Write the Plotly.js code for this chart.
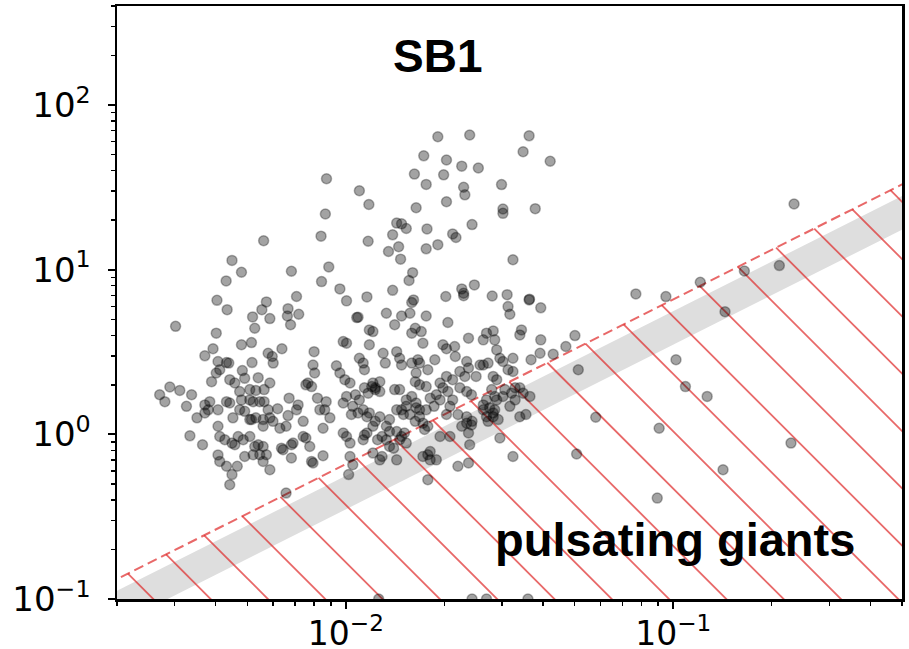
<!DOCTYPE html>
<html><head><meta charset="utf-8">
<script src="https://cdn.plot.ly/plotly-3.0.1.min.js"></script>
<style>html,body{margin:0;padding:0;background:#fff;} #chart{width:909px;height:649px;}</style>
</head><body><div id="chart"></div>
<script>
// ---------------- data ----------------
const upperCloud = [
 [0.0191,64.2],[0.0239,65.8],[0.0363,65.1],[0.0348,52.1],[0.0421,45.6],[0.0173,49.2],[0.0203,46.4],[0.0226,42.6],
 [0.0254,41.5],[0.0162,38.1],[0.0199,37.7],[0.0176,33.0],[0.0299,32.9],[0.0229,31.7],[0.0231,28.5],[0.0110,30.2],
 [0.01176,24.9],[0.0164,23.8],[0.0203,25.9],[0.0302,23.4],[0.0302,22.0],[0.0379,23.5],[0.0143,19.2],[0.0148,19.0],
 [0.0153,17.8],[0.0177,17.7],[0.0243,18.8],[0.0117,14.9],[0.0139,16.3],[0.0212,16.5],[0.0217,15.7],[0.0135,12.9],
 [0.0145,13.8],[0.0147,11.6],[0.0176,13.4],[0.0191,14.2],[0.0324,11.5],[0.0160,9.6],[0.0156,8.6],[0.0139,7.5],
 [0.0116,6.84],[0.0161,6.56],[0.0159,6.32],[0.0226,7.65],[0.0229,7.2],[0.0229,6.96],[0.0247,8.09],[0.0202,6.88],
 [0.0280,6.93],[0.0311,7.06],[0.0364,6.63],[0.00873,35.7],[0.00866,21.8]
];
const leftUpper = [
 [0.00561,15.0],[0.0084,16.0],[0.00449,11.4],[0.0048,9.65],[0.00682,9.79],[0.00887,10.4],[0.00431,8.55],[0.00843,8.47],
 [0.00959,7.65],[0.01005,6.47],[0.00404,6.52],[0.00434,5.72],[0.00572,6.38],[0.00554,5.72],[0.00707,6.88],[0.00666,5.80],
 [0.00663,5.24],[0.00718,5.37],[0.00519,5.17],[0.00586,5.05],[0.00527,4.41],[0.00678,4.63],[0.0108,5.12],[0.00302,4.53]
];
const leftCloud = [
 [0.00402,4.12],[0.0048,3.50],[0.00515,3.61],[0.00393,3.31],[0.00371,3.0],[0.00579,3.11],[0.00596,2.97],[0.0060,2.71],
 [0.00638,3.31],[0.00407,2.77],[0.00432,2.73],[0.00439,2.71],[0.00517,2.73],[0.00389,2.09],[0.00402,2.36],[0.00412,2.47],
 [0.00442,2.15],[0.00458,2.05],[0.00483,2.44],[0.00491,2.19],[0.0054,2.21],[0.00586,2.05],[0.00474,1.82],[0.00509,1.87],
 [0.00531,1.85],[0.00563,1.87],[0.0029,1.94],[0.00311,1.85],[0.00338,1.74],[0.0027,1.74],[0.0028,1.58],[0.00432,1.58],
 [0.00442,1.55],[0.0048,1.62],[0.00509,1.62],[0.00521,1.58],[0.00546,1.58],[0.00563,1.58],[0.00384,1.58],[0.00407,1.41],
 [0.00371,1.35],[0.00351,1.26],[0.00474,1.41],[0.00491,1.38],[0.00509,1.23],[0.00515,1.23],[0.00531,1.26],[0.00452,1.26],
 [0.00579,1.41],[0.00559,1.23],[0.00619,1.43],[0.00671,1.66],[0.00715,1.51],[0.00707,1.41],[0.00666,1.30],[0.00599,1.20],
 [0.00629,1.09],[0.00657,1.12],[0.00741,1.20],[0.00766,2.05],[0.00786,1.95],[0.00755,2.00],[0.00794,2.64],[0.00803,2.36],
 [0.0080,3.18],[0.00819,1.66],[0.00833,1.41],[0.00871,1.58],[0.00862,1.41],[0.00894,1.26],[0.00852,1.09],[0.00936,2.61],
 [0.00334,0.98],[0.00365,0.865],[0.00407,1.12],[0.00412,0.97],[0.00407,0.75],[0.00412,0.685],[0.00432,0.64],[0.00449,0.57],
 [0.00442,0.494],[0.00466,0.64],[0.00449,0.885],[0.00458,0.865],[0.00469,0.97],[0.00427,0.927],[0.00486,0.927],[0.00509,0.97],
 [0.00527,0.844],[0.0054,0.865],[0.00559,0.844],[0.00491,0.734],[0.00521,0.752],[0.00546,0.752],[0.00572,0.752],[0.00559,0.685],
 [0.00586,0.61],[0.00636,0.825],[0.00643,0.806],[0.00682,0.865],[0.0069,0.885],[0.00682,0.719],[0.00741,0.97],[0.00755,0.95],
 [0.00776,0.844],[0.00786,0.685],[0.00794,0.67],[0.00852,0.741],[0.00586,1.26],[0.00559,1.12],[0.00371,1.51],[0.0038,1.41],
 [0.00326,1.48],[0.00657,0.44]
];
const midCloud = [
 [0.0109,5.15],[0.0133,5.44],[0.0148,5.24],[0.0157,5.44],[0.0176,5.24],[0.0205,4.78],[0.0118,4.31],[0.0121,4.21],
 [0.0141,4.63],[0.0159,4.12],[0.0163,4.41],[0.0170,4.21],[0.00982,3.66],[0.01005,3.58],[0.0118,3.50],[0.0172,3.58],
 [0.0198,3.50],[0.0203,3.31],[0.0215,3.42],[0.0216,2.97],[0.0237,3.84],[0.0263,3.75],[0.0269,4.12],[0.0282,4.25],
 [0.0285,3.75],[0.0317,5.37],[0.0313,5.97],[0.0344,4.31],[0.0340,4.02],[0.0363,6.56],[0.0394,3.75],[0.0394,5.87],
 [0.0289,3.26],[0.02955,2.90],[0.0302,2.77],[0.0324,2.90],[0.0313,2.47],[0.0324,2.41],[0.0368,2.84],[0.0392,3.11],
 [0.0430,3.07],[0.0130,3.11],[0.0143,3.18],[0.0146,2.90],[0.0148,2.64],[0.0110,2.90],[0.0113,2.71],[0.0114,2.47],
 [0.00959,2.36],[0.00993,2.15],[0.0103,2.05],[0.0121,2.05],[0.0123,1.92],[0.0127,2.09],[0.0132,2.71],[0.0159,2.71],
 [0.0166,2.84],[0.0168,2.71],[0.0178,2.47],[0.0187,2.84],[0.0164,2.36],[0.0163,2.09],[0.0168,2.0],[0.0176,1.95],
 [0.0141,1.87],[0.0146,1.87],[0.0153,1.62],[0.0159,1.70],[0.0181,1.66],[0.0189,1.74],[0.0194,2.05],[0.0203,2.25],
 [0.0212,2.15],[0.0198,1.92],[0.0205,1.82],[0.0223,2.41],[0.0231,2.25],[0.0237,2.53],[0.0234,2.77],[0.0250,2.25],
 [0.0257,2.64],[0.0263,2.64],[0.0272,2.71],[0.0282,2.25],[0.0289,2.15],[0.0223,1.92],[0.0234,1.82],[0.0242,1.74],
 [0.0212,1.62],[0.0279,1.87],[0.0285,1.70],[0.0289,1.62],[0.0269,1.62],[0.0263,1.51],[0.0302,1.70],[0.0306,1.87],
 [0.0321,1.78],[0.0329,1.92],[0.0340,1.92],[0.0348,1.78],[0.0365,1.70],[0.0329,1.62],[0.0317,1.48],[0.0282,1.28],
 [0.0292,1.23],[0.02955,0.95],[0.0324,0.734],[0.0239,0.865],[0.0220,1.32],[0.0234,1.28],[0.0234,1.17],[0.0208,1.48],
 [0.0203,1.32],[0.0194,1.62],[0.0186,1.48],[0.0176,1.41],[0.0168,1.41],[0.0164,1.45],[0.0168,1.28],[0.0163,1.20],
 [0.0157,1.32],[0.0172,1.17],[0.0174,1.07],[0.0178,1.12],[0.0194,0.97],[0.0208,0.97],[0.0181,0.787],[0.0172,0.734],
 [0.0178,0.752],[0.0189,0.70],[0.0181,0.70],[0.0220,0.64],[0.0237,0.67],[0.0153,1.48],[0.0150,1.32],[0.0148,1.41],
 [0.0143,1.41],[0.0136,1.23],[0.0133,1.12],[0.0136,1.04],[0.0127,1.28],[0.0123,1.20],[0.0121,1.12],[0.0113,1.41],
 [0.0116,1.28],[0.0118,1.35],[0.0105,1.48],[0.0104,1.32],[0.0109,1.35],[0.00982,1.55],[0.01005,1.70],[0.0107,1.74],
 [0.0110,1.62],[0.0114,1.92],[0.0117,1.78],[0.0120,1.95],[0.0123,1.87],[0.0127,1.82],[0.0143,1.04],[0.0148,0.97],
 [0.0153,0.885],[0.0146,0.927],[0.0133,0.927],[0.0136,0.844],[0.0140,0.825],[0.0116,1.02],[0.0113,0.927],[0.0114,0.99],
 [0.01005,0.97],[0.0103,0.885],[0.00982,1.02],[0.0121,0.77],[0.0127,0.70],[0.0129,0.734],[0.0143,0.70],[0.0103,0.734],
 [0.0105,0.654],[0.0102,0.57],[0.0164,1.55],[0.0129,0.97],[0.0125,0.927],[0.0151,1.02],[0.0237,1.02],[0.0226,1.12],
 [0.0242,1.14],[0.0243,1.20],[0.0269,1.28],[0.0272,1.20],[0.0282,1.35],[0.0263,1.41],[0.0275,1.45],[0.0285,1.41],
 [0.0340,1.28],[0.0355,1.32],[0.0178,0.53]
];
const rightSparse = [
 [0.234,25.1],[0.211,10.6],[0.165,9.83],[0.121,8.39],[0.095,6.87],[0.0769,7.13],[0.144,5.56],[0.0501,3.98],
 [0.047,3.42],[0.0513,2.47],[0.102,2.84],[0.109,1.95],[0.127,1.70],[0.058,1.27],[0.0906,1.09],[0.229,0.885],
 [0.0507,0.76],[0.142,0.61],[0.0894,0.41]
];
const bottomEdge = [[0.0126,0.1],[0.0243,0.1],[0.0269,0.1],[0.0360,0.1]];

const boundaryCoef = 66;    // dashed limit:  y = 66 x
const bandCoef = 44.3;      // grey band:     y = 44.3 x
const xRange = [0.002, 0.5];
const yRange = [0.1, 400];
const xTickVals = [0.01, 0.1];
const xTickText = ['10<sup>\u22122</sup>', '10<sup>\u22121</sup>'];
const yTickVals = [0.1, 1, 10, 100];
const yTickText = ['10<sup>\u22121</sup>', '10<sup>0</sup>', '10<sup>1</sup>', '10<sup>2</sup>'];
const titleText = 'SB1';
const regionLabel = 'pulsating giants';

// ---------------- geometry helpers ----------------
const FW = 909, FH = 649, M = {l:117, r:7, t:6, b:50};
const pw = FW - M.l - M.r, ph = FH - M.t - M.b;
const lx0 = Math.log10(xRange[0]), lx1 = Math.log10(xRange[1]);
const ly0 = Math.log10(yRange[0]), ly1 = Math.log10(yRange[1]);
const px2x = px => Math.pow(10, lx0 + px / pw * (lx1 - lx0));
const py2y = py => Math.pow(10, ly1 - py / ph * (ly1 - ly0));
const y2py = y => (ly1 - Math.log10(y)) / (ly1 - ly0) * ph;

// hatch lines (45 deg in screen space, like a matplotlib '\\' hatch)
const hatchX = [], hatchY = [];
const a0 = y2py(boundaryCoef * px2x(0)), a1 = y2py(boundaryCoef * px2x(pw));
const slope = (a1 - a0) / pw;
const hatchStart = 36.3, hatchStep = 57.3;
for (let k = 0; k < 40; k++) {
  const xb = hatchStart + k * hatchStep;
  const ps = (a0 - ph + xb) / (1 - slope);
  if (ps > pw + 5) break;
  const qs = ph - (xb - ps);
  hatchX.push(px2x(ps), px2x(xb + 80), null);
  hatchY.push(py2y(qs), py2y(ph + 80), null);
}
const minorVals = [];
for (let d = -4; d <= 3; d++) for (let k = 2; k <= 9; k++) minorVals.push(k * Math.pow(10, d));

const pts = [].concat(upperCloud, leftUpper, leftCloud, midCloud, rightSparse, bottomEdge);
const lineX = [0.0005, 2];
const red = 'rgba(222,40,40,0.7)';

const traces = [
  {x: lineX, y: lineX.map(v => bandCoef * v), mode: 'lines', line: {color: '#dedede', width: 30}, hoverinfo: 'skip'},
  {x: hatchX, y: hatchY, mode: 'lines', line: {color: red, width: 1.8}, connectgaps: false, hoverinfo: 'skip'},
  {x: lineX, y: lineX.map(v => boundaryCoef * v), mode: 'lines', line: {color: red, width: 2, dash: '10px,5px'}, hoverinfo: 'skip'},
  {x: pts.map(p => p[0]), y: pts.map(p => p[1]), mode: 'markers',
   marker: {size: 10, color: 'rgba(0,0,0,0.36)', line: {color: 'rgba(0,0,0,0.3)', width: 1.5}}}
];

const axisCommon = {
  type: 'log', showgrid: false, zeroline: false, showline: true, mirror: true,
  linecolor: '#000', linewidth: 2.5, ticks: 'outside', ticklen: 7, tickwidth: 2, tickcolor: '#000',
  tickmode: 'array', tickfont: {family: 'DejaVu Sans', size: 34, color: '#000'},
  minor: {tickmode: 'array', tickvals: minorVals, ticks: 'outside', ticklen: 4, tickwidth: 1.5, tickcolor: '#000', showgrid: false}
};

const layout = {
  width: FW, height: FH, margin: M, showlegend: false,
  paper_bgcolor: '#fff', plot_bgcolor: '#fff',
  xaxis: Object.assign({}, axisCommon, {range: [lx0, lx1], tickvals: xTickVals, ticktext: xTickText, ticklabelstandoff: -3,
    tickfont: {family: 'DejaVu Sans', size: 33, color: '#000'}}),
  yaxis: Object.assign({}, axisCommon, {range: [ly0, ly1], tickvals: yTickVals, ticktext: yTickText, ticklabelstandoff: 10}),
  annotations: [
    {text: '<b>' + titleText + '</b>', xref: 'paper', yref: 'paper', x: (437 - M.l) / pw, y: (ph + M.t - 56) / ph,
     xanchor: 'center', yanchor: 'middle', showarrow: false, font: {family: 'Liberation Sans, Arial', size: 46, color: '#000'}},
    {text: '<b>' + regionLabel + '</b>', xref: 'paper', yref: 'paper', x: (675 - M.l) / pw, y: (ph + M.t - 539) / ph,
     xanchor: 'center', yanchor: 'middle', showarrow: false, font: {family: 'Liberation Sans, Arial', size: 47, color: '#000'}}
  ]
};

Plotly.newPlot('chart', traces, layout, {staticPlot: true, displayModeBar: false});
</script>
</body></html>
